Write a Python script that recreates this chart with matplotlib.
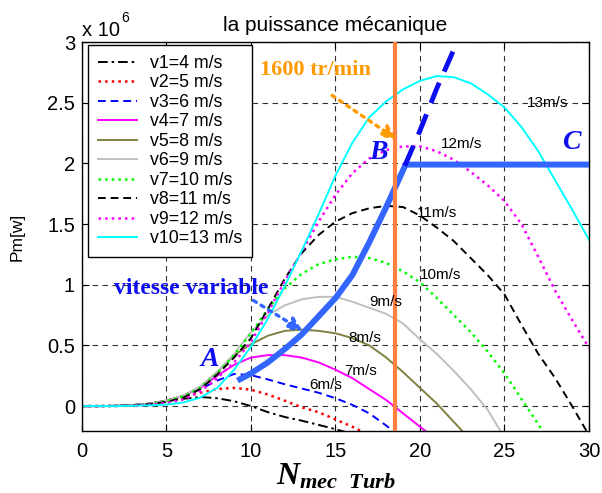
import matplotlib
matplotlib.use('Agg')
import matplotlib.pyplot as plt

plt.rcParams['font.family'] = ['Liberation Sans', 'DejaVu Sans']
plt.rcParams['mathtext.fontset'] = 'custom'
plt.rcParams['mathtext.it'] = 'Liberation Serif:bold:italic'
plt.rcParams['mathtext.rm'] = 'Liberation Serif:bold'

# rotor speed axis and power curves (values in 1e6 W)
x = list(range(31))
p4 = [0, 0, 0.002, 0.008, 0.02, 0.04, 0.06, 0.075, 0.065, 0.04, 0.0, -0.05, -0.09, -0.12, -0.155, -0.19, -0.23]
p5 = [0, 0, 0.002, 0.008, 0.02, 0.045, 0.075, 0.11, 0.14, 0.15, 0.135, 0.095, 0.045, -0.01, -0.05, -0.11, -0.17, -0.24]
p6 = [0, 0, 0.002, 0.008, 0.02, 0.045, 0.08, 0.14, 0.21, 0.265, 0.255, 0.22, 0.18, 0.145, 0.11, 0.065, 0.01, -0.06, -0.16, -0.27]
p7 = [0, 0, 0.002, 0.008, 0.02, 0.045, 0.085, 0.15, 0.25, 0.34, 0.40, 0.42, 0.42, 0.40, 0.36, 0.30, 0.23, 0.14, 0.05, -0.06, -0.17, -0.28]
p8 = [0, 0, 0.002, 0.008, 0.02, 0.045, 0.085, 0.16, 0.28, 0.42, 0.51, 0.58, 0.62, 0.63, 0.62, 0.60, 0.56, 0.50, 0.40, 0.28, 0.15, 0.02, -0.13, -0.28]
p9 = [0, 0, 0.002, 0.008, 0.02, 0.045, 0.085, 0.16, 0.28, 0.43, 0.61, 0.75, 0.83, 0.88, 0.90, 0.90, 0.86, 0.81, 0.76, 0.68, 0.55, 0.43, 0.29, 0.14, -0.03, -0.26]
p10 = [0, 0, 0.002, 0.007, 0.018, 0.04, 0.08, 0.15, 0.27, 0.42, 0.60, 0.80, 0.97, 1.09, 1.17, 1.21, 1.23, 1.22, 1.18, 1.11, 1.02, 0.89, 0.75, 0.61, 0.45, 0.27, 0.06, -0.15, -0.37]
p11 = [0, 0, 0.002, 0.006, 0.016, 0.035, 0.07, 0.14, 0.26, 0.40, 0.56, 0.80, 1.05, 1.26, 1.41, 1.52, 1.59, 1.63, 1.65, 1.64, 1.57, 1.47, 1.36, 1.22, 1.08, 0.92, 0.67, 0.43, 0.23, 0.0, -0.24]
p12 = [0, 0, 0.001, 0.005, 0.012, 0.025, 0.055, 0.12, 0.23, 0.36, 0.53, 0.77, 1.03, 1.27, 1.52, 1.74, 1.92, 2.04, 2.11, 2.14, 2.14, 2.10, 2.03, 1.93, 1.82, 1.69, 1.50, 1.23, 0.95, 0.71, 0.48]
p13 = [0, 0, 0, 0.003, 0.006, 0.012, 0.03, 0.07, 0.15, 0.30, 0.49, 0.72, 0.99, 1.28, 1.58, 1.90, 2.17, 2.38, 2.51, 2.61, 2.68, 2.72, 2.71, 2.66, 2.57, 2.46, 2.30, 2.10, 1.86, 1.62, 1.37]
curves = [p4, p5, p6, p7, p8, p9, p10, p11, p12, p13]
labels = ['v1=4 m/s', 'v2=5 m/s', 'v3=6 m/s', 'v4=7 m/s', 'v5=8 m/s',
          'v6=9 m/s', 'v7=10 m/s', 'v8=11 m/s', 'v9=12 m/s', 'v10=13 m/s']

# variable-speed operating path A -> B -> C, and its dashed extension
path_x = [9.2, 10, 11, 12, 13, 14, 15, 16, 17, 18, 19.15, 30]
path_y = [0.21, 0.27, 0.36, 0.47, 0.59, 0.74, 0.89, 1.08, 1.35, 1.64, 1.99, 1.99]
ext_x = [19.1, 20, 21, 22.2, 23]
ext_y = [1.98, 2.27, 2.62, 3.0, 3.3]
n_limit = 18.55  # 1600 tr/min

# curve labels
tag_text = ['6m/s', '7m/s', '8m/s', '9m/s', '10m/s', '11m/s', '12m/s', '13m/s']
tag_x = [14.4, 16.5, 16.75, 17.95, 21.2, 21.0, 22.45, 27.55]
tag_y = [0.17, 0.29, 0.56, 0.855, 1.08, 1.59, 2.16, 2.5]

styles = [
    dict(color='k', linestyle=(0, (5, 2, 1.3, 2))),
    dict(color='red', linestyle=':'),
    dict(color='blue', linestyle=(0, (4, 2.5))),
    dict(color='magenta', linestyle='-'),
    dict(color=(0.5, 0.5, 0.25), linestyle='-'),
    dict(color=(0.75, 0.75, 0.75), linestyle='-'),
    dict(color=(0, 1, 0), linestyle=':'),
    dict(color='k', linestyle=(0, (4, 2.5))),
    dict(color='magenta', linestyle=':'),
    dict(color='cyan', linestyle='-'),
]

fig = plt.figure(figsize=(6.02, 4.93), dpi=100)
ax = fig.add_axes([0.1362, 0.1258, 0.8422, 0.789])

for y, lab, st in zip(curves, labels, styles):
    lw = 1.8 if st['linestyle'] == ':' else 1.4
    ax.plot(x[:len(y)], y, lw=lw, label=lab, **st)

blue = (0.2, 0.4, 1.0)
ax.plot(path_x, path_y, color=blue, lw=4.3, solid_capstyle='butt', zorder=5)
ax.plot(ext_x, ext_y, color=(0.05, 0.05, 0.95), lw=3.5, linestyle=(0, (4.5, 2.5)), zorder=5)
ax.axvline(n_limit, color=(1.0, 0.5, 0.25), lw=3, zorder=6)

for t, tx, ty in zip(tag_text, tag_x, tag_y):
    ax.text(tx, ty, t, fontsize=11, ha='center', va='center', zorder=7)

serif = 'Liberation Serif'
ax.text(13.8, 2.77, '1600 tr/min', color=(1.0, 0.6, 0.0), fontsize=16,
        fontweight='bold', family=serif, ha='center', va='center', zorder=7)
ax.annotate('', xy=(18.6, 2.2), xytext=(14.8, 2.56),
            arrowprops=dict(arrowstyle='-|>', color=(1.0, 0.6, 0.0), lw=2.4,
                            linestyle=':', mutation_scale=20, shrinkA=0, shrinkB=0),
            zorder=7)
ax.text(6.45, 0.97, 'vitesse variable', color=(0.05, 0.05, 0.95), fontsize=17,
        fontweight='bold', family=serif, ha='center', va='center', zorder=7)
ax.annotate('', xy=(13.05, 0.62), xytext=(10.15, 0.87),
            arrowprops=dict(arrowstyle='-|>', color=blue, lw=2.4,
                            linestyle=':', mutation_scale=20, shrinkA=0, shrinkB=0),
            zorder=7)
for t, tx, ty in [('A', 7.55, 0.385), ('B', 17.53, 2.09), ('C', 28.94, 2.17)]:
    ax.text(tx, ty, t, color=(0.05, 0.05, 0.95), fontsize=20, fontweight='bold',
            style='italic', family=serif, ha='center', va='center', zorder=7)

ax.set_xlim(0, 30)
ax.set_ylim(-0.205, 3)
ax.set_xticks([0, 5, 10, 15, 20, 25, 30])
ax.set_yticks([0, 0.5, 1, 1.5, 2, 2.5, 3])
ax.set_yticklabels(['0', '0.5', '1', '1.5', '2', '2.5', '3'])
ax.tick_params(direction='in', top=True, right=True, labelsize=14.5, length=5)
ax.tick_params(axis='x', pad=8)
ax.tick_params(axis='y', pad=5)
ax.grid(True, color='0.2', linestyle=(0, (5, 4)), lw=0.8)
for s in ax.spines.values():
    s.set_linewidth(1.0)

ax.set_title('la puissance mécanique', fontsize=15, pad=8)
ax.set_ylabel('Pm[w]', fontsize=12.5, labelpad=16)
ax.set_xlabel(r'$N_{mec\ \ Turb}$', fontsize=23, labelpad=0)
fig.text(82 / 602, 1 - 36 / 493, 'x 10', fontsize=14.5, va='baseline')
fig.text(121 / 602, 1 - 22 / 493, '6', fontsize=10, va='baseline')

leg = ax.legend(loc='upper left', bbox_to_anchor=(0.012, 0.992), borderaxespad=0,
                fontsize=12.8, labelspacing=0.14, handlelength=2.2, handletextpad=0.75,
                fancybox=False, framealpha=1, edgecolor='k', borderpad=0.55)
leg.get_frame().set_linewidth(1.0)
leg.set_zorder(10)

fig.savefig('out.png', dpi=100)
